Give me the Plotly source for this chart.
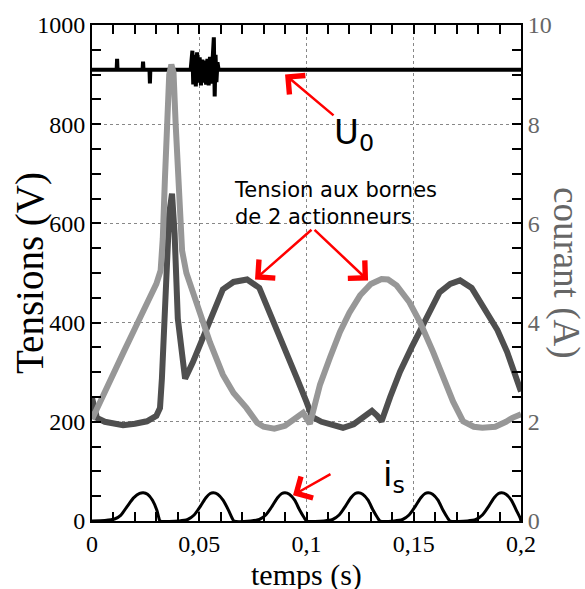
import plotly.graph_objects as go

# ---- data ----
t_u0 = [0, 0.0115, 0.0117, 0.0119, 0.0236, 0.0238, 0.0240, 0.0268, 0.0270, 0.0272,
        0.0460, 0.0468, 0.0472, 0.0478, 0.0484, 0.0490, 0.0496, 0.0502, 0.0508, 0.0514,
        0.0520, 0.0526, 0.0532, 0.0538, 0.0544, 0.0550, 0.0556, 0.0562, 0.0568, 0.0572,
        0.0576, 0.0580, 0.0585, 0.0590, 0.2000]
u0 = [910, 910, 932, 910, 910, 926, 910, 910, 882, 910,
      910, 948, 880, 940, 876, 945, 884, 935, 878, 930,
      884, 928, 880, 932, 878, 936, 882, 930, 975, 856,
      940, 885, 925, 910, 910]

t_v1 = [0, 0.005, 0.010, 0.015, 0.020, 0.025, 0.030, 0.032, 0.033, 0.034, 0.035, 0.036,
        0.037, 0.038, 0.039, 0.040, 0.041, 0.042, 0.044, 0.046, 0.050, 0.055, 0.061, 0.066,
        0.072, 0.077, 0.080, 0.085, 0.090, 0.095, 0.0984, 0.1016, 0.1063, 0.1110, 0.1156,
        0.1200, 0.1250, 0.1300, 0.1350, 0.1380, 0.1420, 0.1480, 0.1530, 0.1590, 0.1640,
        0.1683, 0.1730, 0.1780, 0.1820, 0.1880, 0.1930, 0.1960, 0.2000]
v1 = [205, 253, 298, 343, 388, 433, 478, 505, 570, 690, 810, 900,
      920, 905, 800, 690, 600, 545, 500, 475, 425, 360, 295, 258,
      228, 198, 190, 186, 192, 208, 218, 196, 275, 330, 381,
      420, 455, 478, 488, 487, 475, 441, 400, 341, 285,
      241, 201, 190, 188, 190, 200, 208, 215]

t_v2 = [0, 0.0023, 0.006, 0.010, 0.0145, 0.020, 0.0256, 0.030, 0.0317, 0.0326, 0.0334,
        0.0340, 0.0350, 0.0360, 0.0373, 0.0385, 0.0400, 0.0420, 0.0434, 0.0470, 0.0503,
        0.0550, 0.0610, 0.0660, 0.0723, 0.0780, 0.0862, 0.0910, 0.0956, 0.1000, 0.1026,
        0.1070, 0.1120, 0.1170, 0.1220, 0.1270, 0.1305, 0.1330, 0.1350, 0.1390, 0.1436,
        0.1490, 0.1540, 0.1620, 0.1670, 0.1716, 0.1770, 0.1840, 0.1890, 0.1935, 0.1970,
        0.2000]
v2 = [248, 208, 200, 196, 193, 196, 201, 212, 228, 288, 360,
      441, 540, 620, 660, 580, 408, 341, 287, 320, 355,
      408, 467, 482, 487, 470, 387, 340, 287, 240, 210,
      200, 193, 188, 195, 210, 222, 212, 201, 250, 301,
      350, 395, 461, 478, 485, 470, 421, 385, 341, 300,
      261]

t_is = [0, 0.006, 0.0105, 0.0135, 0.0165, 0.0195, 0.0222, 0.0239, 0.0259, 0.0282, 0.0302, 0.0312, 0.0317,
        0.0406, 0.0446, 0.0476, 0.0506, 0.0531, 0.0551, 0.0566, 0.0586, 0.0611, 0.0636, 0.0653, 0.0662,
        0.0740, 0.0780, 0.0810, 0.0840, 0.0865, 0.0885, 0.0900, 0.0920, 0.0945, 0.0968, 0.0990, 0.1001,
        0.1082, 0.1122, 0.1152, 0.1182, 0.1207, 0.1227, 0.1242, 0.1262, 0.1287, 0.1310, 0.1332, 0.1343,
        0.1408, 0.1448, 0.1478, 0.1508, 0.1533, 0.1553, 0.1568, 0.1588, 0.1613, 0.1636, 0.1658, 0.1669,
        0.1750, 0.1790, 0.1820, 0.1850, 0.1875, 0.1895, 0.1910, 0.1930, 0.1955, 0.1978, 0.1996, 0.2000]
i_s = [0, 0.01, 0.04, 0.12, 0.30, 0.47, 0.555, 0.57, 0.54, 0.42, 0.22, 0.06, 0,
       0, 0.03, 0.12, 0.30, 0.47, 0.555, 0.57, 0.54, 0.42, 0.22, 0.06, 0,
       0, 0.03, 0.12, 0.30, 0.47, 0.555, 0.57, 0.54, 0.42, 0.22, 0.06, 0,
       0, 0.03, 0.12, 0.30, 0.47, 0.555, 0.57, 0.54, 0.42, 0.22, 0.06, 0,
       0, 0.03, 0.12, 0.30, 0.47, 0.555, 0.57, 0.54, 0.42, 0.22, 0.06, 0,
       0, 0.03, 0.12, 0.30, 0.47, 0.555, 0.57, 0.54, 0.42, 0.22, 0.06, 0]

x_tickvals = [0, 0.05, 0.1, 0.15, 0.2]
x_ticktext = ["0", "0,05", "0,1", "0,15", "0,2"]

serif = "Liberation Serif"
sans = "DejaVu Sans"

fig = go.Figure()
fig.add_trace(go.Scatter(x=t_u0, y=u0, mode="lines", line=dict(color="black", width=4)))
fig.add_trace(go.Scatter(x=t_v2, y=v2, mode="lines", line=dict(color="#4f4f4f", width=6)))
fig.add_trace(go.Scatter(x=t_v1, y=v1, mode="lines", line=dict(color="#979797", width=6)))
fig.add_trace(go.Scatter(x=t_is, y=i_s, mode="lines", yaxis="y2",
                         line=dict(color="black", width=3, shape="spline", smoothing=0.6)))

axis_common = dict(ticks="inside", ticklen=9, tickwidth=1.5, tickcolor="black",
                   showline=True, linewidth=2, linecolor="black", zeroline=False)

fig.update_layout(
    width=585, height=589,
    margin=dict(l=92, r=64, t=20, b=68),
    plot_bgcolor="white", paper_bgcolor="white",
    showlegend=False,
    xaxis=dict(range=[0, 0.2], tickvals=x_tickvals, ticktext=x_ticktext,
               mirror="ticks", showgrid=True, gridcolor="#888888", griddash="dot", gridwidth=1,
               minor=dict(dtick=0.01, ticks="inside", ticklen=9, tickwidth=1.5, tickcolor="black", showgrid=False),
               tickfont=dict(family=serif, size=24, color="black"), **axis_common),
    yaxis=dict(range=[0, 1000], dtick=200, showgrid=True, gridcolor="#888888", griddash="dot", gridwidth=1,
               minor=dict(dtick=50, ticks="inside", ticklen=9, tickwidth=1.5, tickcolor="black", showgrid=False),
               tickfont=dict(family=serif, size=24, color="black"), **axis_common),
    yaxis2=dict(range=[0, 10], dtick=2, overlaying="y", side="right", showgrid=False,
                minor=dict(dtick=0.5, ticks="inside", ticklen=9, tickwidth=1.5, tickcolor="black", showgrid=False),
                tickfont=dict(family=serif, size=24, color="#666666"), **axis_common),
)

ann = []
# axis titles
ann.append(dict(text="Tensions (V)", xref="paper", yref="paper", x=-0.1445, y=0.50,
                xanchor="center", yanchor="middle",
                textangle=-90, showarrow=False, font=dict(family=serif, size=39, color="black")))
ann.append(dict(text="courant (A)", xref="paper", yref="paper", x=1.105, y=0.50,
                xanchor="center", yanchor="middle",
                textangle=90, showarrow=False, font=dict(family=serif, size=37, color="#666666")))
ann.append(dict(text="temps (s)", xref="paper", yref="paper", x=0.501, y=-0.108,
                xanchor="center", yanchor="middle",
                showarrow=False, font=dict(family=serif, size=30, color="black")))
# labels
ann.append(dict(text="U<sub>0</sub>", xref="x", yref="y", x=0.1221, y=780, showarrow=False,
                font=dict(family=sans, size=34, color="black")))
ann.append(dict(text="Tension aux bornes<br>de 2 actionneurs", xref="x", yref="y", x=0.0653, y=641,
                xanchor="left", align="left", showarrow=False,
                font=dict(family=sans, size=21, color="black")))
ann.append(dict(text="i<sub>s</sub>", xref="x", yref="y", x=0.1408, y=90, showarrow=False,
                font=dict(family=sans, size=34, color="black")))
# arrows
arrow = dict(text="", showarrow=True, arrowhead=4, arrowsize=1.9, arrowwidth=2.5, arrowcolor="red",
             xref="x", yref="y", standoff=0)
ann.append(dict(x=0.0900, y=900, ax=50, ay=42, **arrow))
ann.append(dict(x=0.0760, y=487, ax=58, ay=-51, **arrow))
ann.append(dict(x=0.1287, y=485, ax=-55, ay=-52, **arrow))
ann.append(dict(x=0.0937, y=52, ax=39, ay=-22, **arrow))
fig.update_layout(annotations=ann)

fig.write_html("out.html")
